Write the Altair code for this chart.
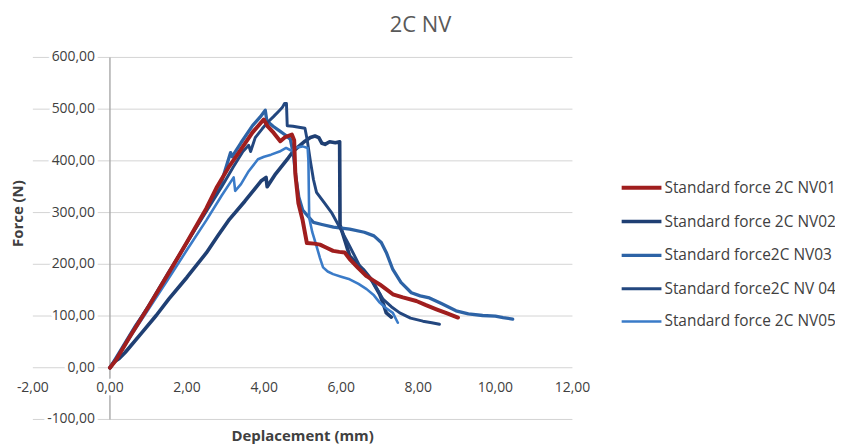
import altair as alt
import pandas as pd

series = ["Standard force 2C NV01", "Standard force 2C NV02", "Standard force2C NV03",
          "Standard force2C NV 04", "Standard force 2C NV05"]
colors = ["#A01E1E", "#1F3F73", "#2D63A6", "#23477F", "#3A7BC8"]
widths = [4, 2.6, 2.6, 2.6, 2.6]

nv01_x = [0, 0.15, 0.5, 1.0, 1.5, 2.0, 2.5, 2.78, 3.1, 3.4, 3.7, 3.99, 4.1, 4.25, 4.42, 4.55, 4.72, 4.78,
          4.81, 4.89, 5.0, 5.11, 5.3, 5.45, 5.62, 5.79, 5.95, 6.09, 6.22, 6.45, 6.66, 6.85, 7.0, 7.2, 7.34,
          7.6, 7.95, 8.2, 8.47, 8.75, 9.03]
nv01_f = [0, 14, 58, 118, 180, 243, 308, 350, 390, 422, 455, 480, 466, 454, 438, 446, 451, 440,
          375, 318, 285, 241, 240, 238, 232, 226, 224, 223, 210, 192, 177, 168, 161, 150, 142,
          136, 129, 121, 113, 105, 97]

nv02_x = [0, 0.12, 0.24, 0.4, 0.84, 1.2, 1.53, 2.0, 2.5, 2.8, 3.1, 3.5, 3.92, 4.05, 4.08, 4.3, 4.63, 4.76,
          4.9, 5.06, 5.2, 5.32, 5.42, 5.5, 5.58, 5.7, 5.85, 5.96, 5.97, 6.1, 6.22, 6.4, 6.57, 6.78, 7.0,
          7.1, 7.17, 7.3]
nv02_f = [0, 12, 18, 30, 69, 101, 133, 175, 222, 255, 287, 322, 361, 368, 350, 375, 406, 419,
          428, 438, 445, 448, 445, 434, 432, 437, 435, 437, 276, 245, 216, 202, 190, 171, 142,
          122, 106, 98]

nv03_x = [0, 0.15, 0.67, 1.14, 1.6, 2.0, 2.5, 2.9, 3.13, 3.17, 3.4, 3.7, 3.9, 4.03, 4.07, 4.15, 4.25, 4.4,
          4.55, 4.68, 4.76, 4.8, 4.84, 4.9, 5.0, 5.15, 5.28, 5.5, 5.8, 6.22, 6.6, 6.85, 7.04, 7.17, 7.34,
          7.55, 7.82, 8.05, 8.29, 8.6, 8.98, 9.3, 9.67, 10.0, 10.2, 10.45]
nv03_f = [0, 18, 82, 133, 192, 243, 305, 360, 416, 408, 435, 468, 485, 498, 478, 472, 466, 458,
          450, 442, 413, 385, 360, 330, 305, 292, 281, 277, 272, 268, 262, 255, 242, 223, 190,
          165, 145, 139, 135, 124, 110, 104, 101, 100, 97, 94]

nv04_x = [0, 0.2, 0.6, 1.0, 1.5, 2.0, 2.5, 2.9, 3.2, 3.45, 3.6, 3.65, 3.77, 3.95, 4.1, 4.25, 4.38, 4.47,
          4.53, 4.58, 4.6, 4.75, 4.9, 5.06, 5.12, 5.2, 5.28, 5.36, 5.55, 5.75, 6.0, 6.22, 6.48, 6.83,
          7.09, 7.3, 7.52, 7.8, 8.12, 8.35, 8.55]
nv04_f = [0, 22, 72, 120, 182, 242, 302, 350, 388, 418, 430, 418, 445, 462, 475, 486, 496, 503,
          511, 511, 468, 467, 465, 463, 440, 400, 364, 339, 320, 300, 266, 235, 197, 165,
          132, 118, 106, 96, 90, 87, 84]

nv05_x = [0, 0.2, 0.6, 1.0, 1.5, 2.0, 2.5, 2.9, 3.21, 3.25, 3.4, 3.6, 3.84, 4.0, 4.18, 4.4, 4.57, 4.7,
          4.85, 5.0, 5.13, 5.15, 5.17, 5.25, 5.36, 5.45, 5.53, 5.65, 5.79, 6.0, 6.22, 6.45, 6.66,
          6.85, 7.0, 7.15, 7.34, 7.47]
nv05_f = [0, 20, 68, 113, 170, 228, 285, 333, 368, 342, 355, 380, 403, 408, 412, 418, 425, 420,
          426, 428, 425, 400, 290, 262, 235, 212, 194, 186, 181, 176, 171, 162, 152,
          140, 126, 116, 106, 87]

x_ticks = [-2, 0, 2, 4, 6, 8, 10, 12]
y_ticks = [-100, 0, 100, 200, 300, 400, 500, 600]

order_of_draw = [(1, nv02_x, nv02_f), (2, nv03_x, nv03_f), (3, nv04_x, nv04_f),
                 (4, nv05_x, nv05_f), (0, nv01_x, nv01_f)]
rows = []
for k, xs_, fs_ in order_of_draw:
    for i, (a, b) in enumerate(zip(xs_, fs_)):
        rows.append({"series": series[k], "i": i, "x": a, "f": b})
df = pd.DataFrame(rows)


def fr(v):
    return f"{v:.2f}".replace(".", ",")


ylab = pd.DataFrame({"v": y_ticks, "x0": [0] * len(y_ticks), "label": [fr(v) for v in y_ticks]})
xlab = pd.DataFrame({"v": x_ticks, "y0": [0] * len(x_ticks), "label": [fr(v) for v in x_ticks]})
grid = pd.DataFrame({"v": y_ticks, "xa": [x_ticks[0]] * len(y_ticks), "xb": [x_ticks[-1]] * len(y_ticks)})
axis_line = pd.DataFrame({"x0": [0], "ya": [y_ticks[0]], "yb": [y_ticks[-1]]})

FONT = "Open Sans"
W, H = 542.5, 364
xs = alt.Scale(domain=[x_ticks[0], x_ticks[-1]], nice=False, zero=False)
ys = alt.Scale(domain=[y_ticks[0], y_ticks[-1]], nice=False, zero=False)

leg = alt.Legend(title=None, orient="none", legendX=590, legendY=109, symbolType="stroke",
                 symbolSize=1600, labelFont=FONT, labelFontSize=15.5, labelColor="#404040",
                 rowPadding=3, padding=0, labelOffset=1, labelLimit=300)

gridlines = alt.Chart(grid).mark_rule(color="#D4D4D4", strokeWidth=1).encode(
    x=alt.X("xa:Q", scale=xs, axis=None), x2="xb:Q",
    y=alt.Y("v:Q", scale=ys, axis=None),
)

yaxis_rule = alt.Chart(axis_line).mark_rule(color="#A8A8A8", strokeWidth=1.4).encode(
    x=alt.X("x0:Q", scale=xs, axis=None),
    y=alt.Y("ya:Q", scale=ys, axis=None),
    y2=alt.Y2("yb:Q"),
)

lines = alt.Chart(df).mark_line(strokeJoin="round", strokeCap="round").encode(
    x=alt.X("x:Q", scale=xs, axis=None),
    y=alt.Y("f:Q", scale=ys, axis=None),
    color=alt.Color("series:N", scale=alt.Scale(domain=series, range=colors), legend=leg),
    strokeWidth=alt.StrokeWidth("series:N", scale=alt.Scale(domain=series, range=widths), legend=leg),
    order=alt.Order("i:Q"),
)


def labels(data, xenc, yenc, **kw):
    halo = alt.Chart(data).mark_text(font=FONT, fontSize=14, color="white", stroke="white",
                                     strokeWidth=7, strokeJoin="round", **kw).encode(
        x=xenc, y=yenc, text="label:N")
    txt = alt.Chart(data).mark_text(font=FONT, fontSize=14, color="#404040", **kw).encode(
        x=xenc, y=yenc, text="label:N")
    return [halo, txt]


ylayers = labels(ylab, alt.X("x0:Q", scale=xs, axis=None), alt.Y("v:Q", scale=ys, axis=None),
                 align="right", baseline="middle", dx=-15)
xlayers = labels(xlab, alt.X("v:Q", scale=xs, axis=None), alt.Y("y0:Q", scale=ys, axis=None),
                 align="center", baseline="middle", dy=20)

titles = pd.DataFrame({"t": ["Deplacement (mm)"]})
xtitle = alt.Chart(titles).mark_text(font=FONT, fontSize=15, fontWeight="bold", color="#404040",
                                     baseline="middle", align="center").encode(
    x=alt.value(W / 2), y=alt.value(380.5), text="t:N")
ytitles = pd.DataFrame({"t": ["Force (N)"]})
ytitle = alt.Chart(ytitles).mark_text(font=FONT, fontSize=15, fontWeight="bold", color="#404040",
                                      baseline="middle", align="center", angle=270).encode(
    x=alt.value(-15), y=alt.value(157), text="t:N")

chart = alt.layer(gridlines, yaxis_rule, lines, *xlayers, *ylayers, xtitle, ytitle).properties(
    width=W, height=H,
    padding={"left": 25, "top": 48.5, "right": 264, "bottom": 26},
    autosize=alt.AutoSizeParams(type="none"),
    title=alt.TitleParams("2C NV", font=FONT, fontSize=22, fontWeight="normal", color="#595959",
                          anchor="middle", frame="group", dx=118.5, offset=14),
).configure_view(stroke=None)

chart.save("out.html", embed_options={"renderer": "svg", "actions": False})
